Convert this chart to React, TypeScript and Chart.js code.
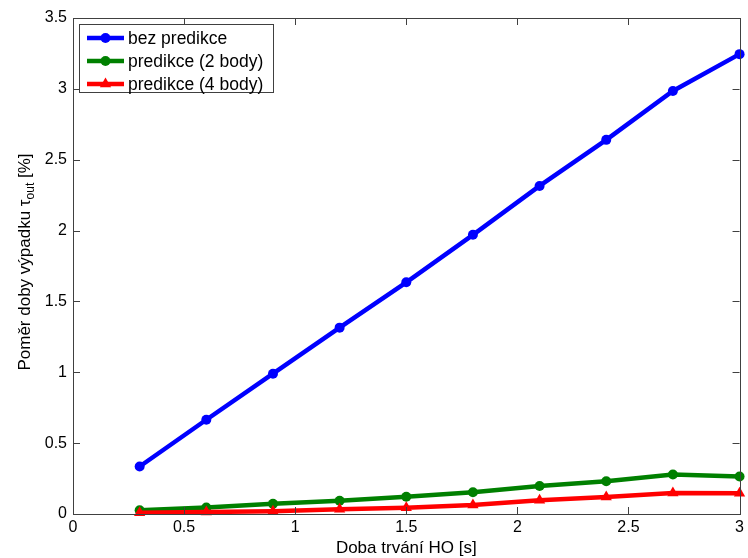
import React, { useEffect, useRef } from "react";
import { Chart, registerables } from "chart.js";

Chart.register(...registerables);

const xValues = [0.3, 0.6, 0.9, 1.2, 1.5, 1.8, 2.1, 2.4, 2.7, 3.0];
const bezPredikce = [0.335, 0.665, 0.99, 1.315, 1.635, 1.97, 2.315, 2.64, 2.985, 3.245];
const predikce2 = [0.026, 0.045, 0.072, 0.094, 0.122, 0.153, 0.198, 0.231, 0.279, 0.264];
const predikce4 = [0.008, 0.014, 0.019, 0.033, 0.044, 0.064, 0.097, 0.12, 0.149, 0.146];
const seriesLabels = ["bez predikce", "predikce (2 body)", "predikce (4 body)"];
const seriesColors = ["#0000ff", "#008000", "#ff0000"];
const seriesMarkers = ["circle", "circle", "triangle"];
const seriesRadius = [5, 5, 6.5];
const xTitle = "Doba trvání HO [s]";
const yTitleMain = "Poměr doby výpadku τ";
const yTitleSub = "out";
const yTitleEnd = " [%]";
const xTicks = [0, 0.5, 1, 1.5, 2, 2.5, 3];
const yTicks = [0, 0.5, 1, 1.5, 2, 2.5, 3, 3.5];

const FONT = "'Liberation Sans', Arial, sans-serif";
const TICK_SIZE = 16;
const TITLE_SIZE = 17;
const LEGEND_SIZE = 17.5;

function drawMarker(ctx: CanvasRenderingContext2D, style: string, x: number, y: number, r: number, color: string) {
  ctx.fillStyle = color;
  ctx.beginPath();
  if (style === "triangle") {
    const side = r * Math.sqrt(3);
    const h = (side * Math.sqrt(3)) / 2;
    ctx.moveTo(x, y - (2 * h) / 3);
    ctx.lineTo(x + side / 2, y + h / 3);
    ctx.lineTo(x - side / 2, y + h / 3);
    ctx.closePath();
  } else {
    ctx.arc(x, y, r, 0, Math.PI * 2);
  }
  ctx.fill();
}

const decorPlugin = {
  id: "matlabDecor",
  afterDraw(chart: any) {
    const ctx: CanvasRenderingContext2D = chart.ctx;
    const { left, right, top, bottom } = chart.chartArea;
    const xs = chart.scales.x;
    const ys = chart.scales.y;
    ctx.save();
    ctx.strokeStyle = "#404040";
    ctx.lineWidth = 1;
    ctx.strokeRect(Math.round(left) + 0.5, Math.round(top) + 0.5, Math.round(right - left), Math.round(bottom - top));
    const tl = 7;
    ctx.beginPath();
    xTicks.forEach((v) => {
      const px = Math.round(xs.getPixelForValue(v)) + 0.5;
      ctx.moveTo(px, bottom);
      ctx.lineTo(px, bottom - tl);
      ctx.moveTo(px, top);
      ctx.lineTo(px, top + tl);
    });
    yTicks.forEach((v) => {
      const py = Math.round(ys.getPixelForValue(v)) + 0.5;
      ctx.moveTo(left, py);
      ctx.lineTo(left + tl, py);
      ctx.moveTo(right, py);
      ctx.lineTo(right - tl, py);
    });
    ctx.stroke();

    ctx.fillStyle = "#000";
    ctx.font = `${TITLE_SIZE}px ${FONT}`;
    ctx.textAlign = "center";
    ctx.textBaseline = "alphabetic";
    ctx.fillText(xTitle, (left + right) / 2, 553);

    ctx.save();
    ctx.translate(30, 262);
    ctx.rotate(-Math.PI / 2);
    ctx.textAlign = "left";
    ctx.font = `${TITLE_SIZE}px ${FONT}`;
    const w1 = ctx.measureText(yTitleMain).width;
    const w3 = ctx.measureText(yTitleEnd).width;
    ctx.font = `12px ${FONT}`;
    const w2 = ctx.measureText(yTitleSub).width;
    const total = w1 + w2 + w3;
    let sx = -total / 2;
    ctx.font = `${TITLE_SIZE}px ${FONT}`;
    ctx.fillText(yTitleMain, sx, 0);
    sx += w1;
    ctx.font = `12px ${FONT}`;
    ctx.fillText(yTitleSub, sx, 4);
    sx += w2;
    ctx.font = `${TITLE_SIZE}px ${FONT}`;
    ctx.fillText(yTitleEnd, sx, 0);
    ctx.restore();

    ctx.fillStyle = "#ffffff";
    ctx.fillRect(79.5, 24.5, 194, 68);
    ctx.strokeStyle = "#404040";
    ctx.lineWidth = 1;
    ctx.strokeRect(79.5, 24.5, 194, 68);
    seriesLabels.forEach((lab, i) => {
      const yy = 38 + i * 23;
      ctx.strokeStyle = seriesColors[i];
      ctx.lineWidth = 4.5;
      ctx.beginPath();
      ctx.moveTo(87, yy);
      ctx.lineTo(124, yy);
      ctx.stroke();
      drawMarker(ctx, seriesMarkers[i], 105.5, yy, seriesRadius[i], seriesColors[i]);
      ctx.fillStyle = "#000";
      ctx.font = `${LEGEND_SIZE}px ${FONT}`;
      ctx.textAlign = "left";
      ctx.textBaseline = "middle";
      ctx.fillText(lab, 128, yy + 1);
    });
    ctx.restore();
  },
};

export default function App() {
  const ref = useRef<HTMLCanvasElement>(null);
  useEffect(() => {
    if (!ref.current) return;
    const series = [bezPredikce, predikce2, predikce4];
    const chart = new Chart(ref.current, {
      type: "line",
      data: {
        datasets: series.map((vals, i) => ({
          label: seriesLabels[i],
          data: xValues.map((x, j) => ({ x, y: vals[j] })),
          borderColor: seriesColors[i],
          backgroundColor: seriesColors[i],
          borderWidth: 4.5,
          pointStyle: seriesMarkers[i] as any,
          pointRadius: seriesRadius[i],
          pointBorderWidth: 0,
          tension: 0,
          clip: false as any,
          order: 2 - i,
        })),
      },
      options: {
        responsive: false,
        animation: false,
        layout: { padding: { top: 18, right: 6, left: 0, bottom: 0 } },
        plugins: { legend: { display: false }, tooltip: { enabled: false } },
        scales: {
          x: {
            type: "linear",
            min: 0,
            max: 3,
            grid: { display: false, drawTicks: false },
            border: { display: false },
            ticks: {
              stepSize: 0.5,
              padding: 4,
              color: "#000",
              font: { family: FONT, size: TICK_SIZE },
              maxRotation: 0,
              callback: (v: any) => String(Number(v)),
            },
            afterFit: (s: any) => {
              s.height = 44;
            },
          },
          y: {
            type: "linear",
            min: 0,
            max: 3.5,
            grid: { display: false, drawTicks: false },
            border: { display: false },
            ticks: {
              stepSize: 0.5,
              padding: 6,
              color: "#000",
              font: { family: FONT, size: TICK_SIZE },
              callback: (v: any) => String(Number(v)),
            },
            afterFit: (s: any) => {
              s.width = 73;
            },
          },
        },
      },
      plugins: [decorPlugin],
    });
    return () => chart.destroy();
  }, []);
  return (
    <div style={{ position: "absolute", left: 0, top: 0, width: 748, height: 558, background: "#fff" }}>
      <canvas ref={ref} width={748} height={558} />
    </div>
  );
}
